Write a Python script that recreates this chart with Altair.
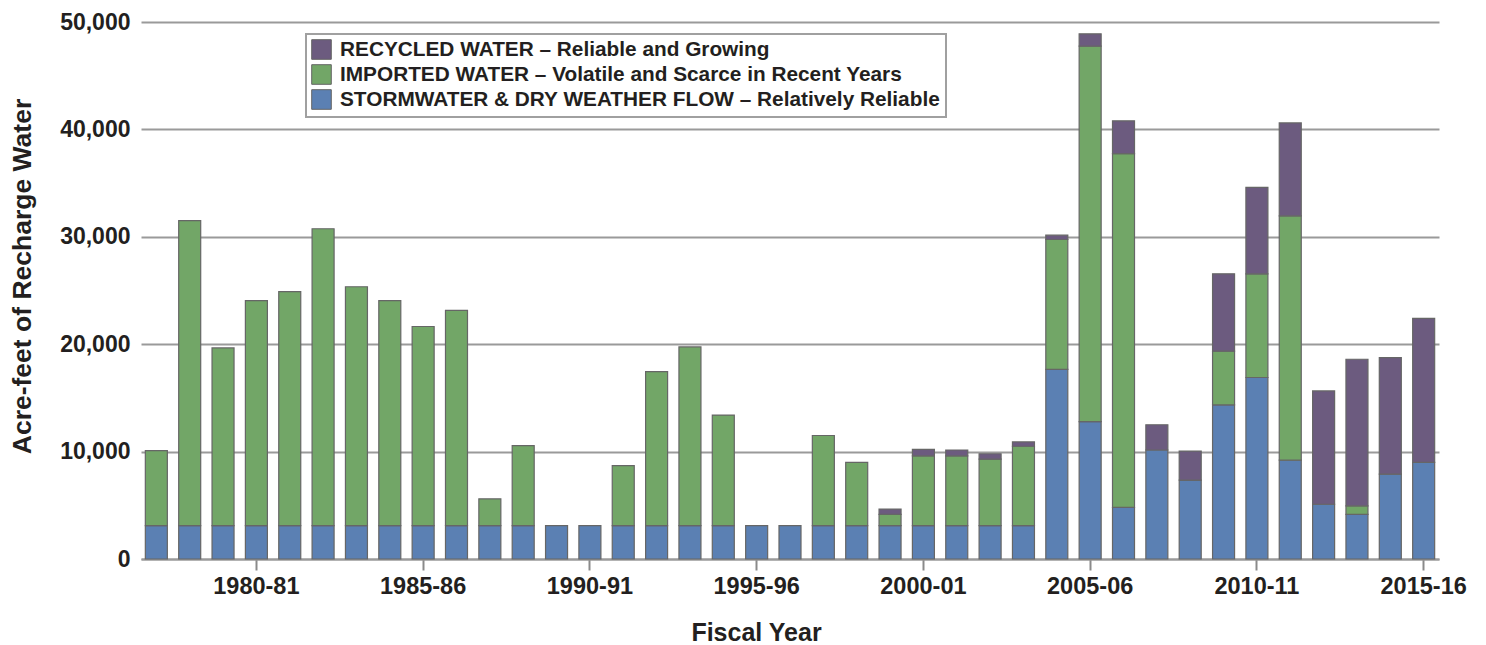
import altair as alt
import pandas as pd

years = ["1977-78", "1978-79", "1979-80", "1980-81", "1981-82", "1982-83", "1983-84",
         "1984-85", "1985-86", "1986-87", "1987-88", "1988-89", "1989-90", "1990-91",
         "1991-92", "1992-93", "1993-94", "1994-95", "1995-96", "1996-97", "1997-98",
         "1998-99", "1999-00", "2000-01", "2001-02", "2002-03", "2003-04", "2004-05",
         "2005-06", "2006-07", "2007-08", "2008-09", "2009-10", "2010-11", "2011-12",
         "2012-13", "2013-14", "2014-15", "2015-16"]

storm = [3100, 3100, 3100, 3100, 3100, 3100, 3100, 3100, 3100, 3100, 3100, 3100, 3100,
         3100, 3100, 3100, 3100, 3100, 3100, 3100, 3100, 3100, 3100, 3100, 3100, 3100,
         3100, 17650, 12800, 4800, 10150, 7350, 14350, 16900, 9200, 5100, 4150, 7900, 9000]

imported = [7000, 28400, 16550, 20950, 21800, 27650, 22250, 20950, 18550, 20050, 2500,
            7450, 0, 0, 5600, 14350, 16650, 10300, 0, 0, 8400, 5900, 1050, 6500, 6500,
            6200, 7400, 12100, 34950, 32950, 0, 0, 5000, 9650, 22750, 0, 800, 0, 0]

recycled = [0, 0, 0, 0, 0, 0, 0, 0, 0, 0, 0, 0, 0, 0, 0, 0, 0, 0, 0, 0, 0, 0,
            500, 600, 550, 500, 400, 400, 1150, 3050, 2350, 2700, 7200, 8050, 8650,
            10550, 13650, 10850, 13400]

sources = ["RECYCLED WATER \u2013 Reliable and Growing",
           "IMPORTED WATER \u2013 Volatile and Scarce in Recent Years",
           "STORMWATER & DRY WEATHER FLOW \u2013 Relatively Reliable"]
colors = ["#6C5B7F", "#72A667", "#5B80B3"]
tick_years = ["1980-81", "1985-86", "1990-91", "1995-96", "2000-01", "2005-06",
              "2010-11", "2015-16"]
y_ticks = [0, 10000, 20000, 30000, 40000, 50000]

rows = []
for i, y in enumerate(years):
    for src, vals, order in [(sources[2], storm, 0), (sources[1], imported, 1),
                             (sources[0], recycled, 2)]:
        if vals[i] > 0:
            rows.append({"year": y, "source": src, "value": vals[i], "order": order})
df = pd.DataFrame(rows)

FONT = "Liberation Sans"

chart = alt.Chart(df).mark_bar(stroke="#666666", strokeWidth=1.2).encode(
    x=alt.X("year:N", sort=years,
            scale=alt.Scale(domain=years, paddingInner=0.34, paddingOuter=0.13),
            axis=alt.Axis(values=tick_years, labelAngle=0, title="Fiscal Year",
                          tickSize=11, tickWidth=2, tickColor="#8a8a8a",
                          domainColor="#9a9a9a", domainWidth=2,
                          labelFontSize=23.5, labelFont=FONT, labelFontWeight="bold",
                          labelColor="#231f20", labelPadding=4,
                          titleFontSize=25, titleFont=FONT, titleFontWeight="bold",
                          titleColor="#231f20", titleX=615, titleY=81,
                          titleBaseline="alphabetic", titleAlign="center",
                          grid=False)),
    y=alt.Y("value:Q", stack="zero",
            scale=alt.Scale(domain=[0, 50000], nice=False),
            axis=alt.Axis(values=y_ticks, format=",d",
                          title="Acre-feet of Recharge Water", ticks=False, domain=False,
                          grid=True, gridColor="#9a9a9a", gridWidth=2,
                          labelFontSize=23, labelFont=FONT, labelFontWeight="bold",
                          labelColor="#231f20", labelPadding=11,
                          titleFontSize=26.5, titleFont=FONT, titleFontWeight="bold",
                          titleColor="#231f20", titleX=-119, titleY=254,
                          titleAlign="center", titleBaseline="middle", titleAngle=-90)),
    color=alt.Color("source:N",
                    scale=alt.Scale(domain=sources, range=colors),
                    legend=alt.Legend(title=None, orient="none", legendX=165, legendY=12,
                                      symbolType="square", symbolSize=384,
                                      symbolStrokeColor="#666666", symbolStrokeWidth=1,
                                      symbolOpacity=1,
                                      labelFontSize=20.8, labelFont=FONT,
                                      labelFontWeight="bold", labelColor="#231f20",
                                      labelOffset=8, labelLimit=1000, rowPadding=0,
                                      padding=5, strokeColor="#a0a0a0")),
    order=alt.Order("order:Q", sort="ascending"),
).properties(
    width=1298,
    height=537,
    autosize=alt.AutoSizeParams(type="none"),
    padding={"left": 133, "top": 14, "right": 30, "bottom": 86},
).configure_view(stroke=None).configure_legend(strokeWidth=2)

chart.save("out.html", embed_options={"renderer": "svg", "actions": False})
